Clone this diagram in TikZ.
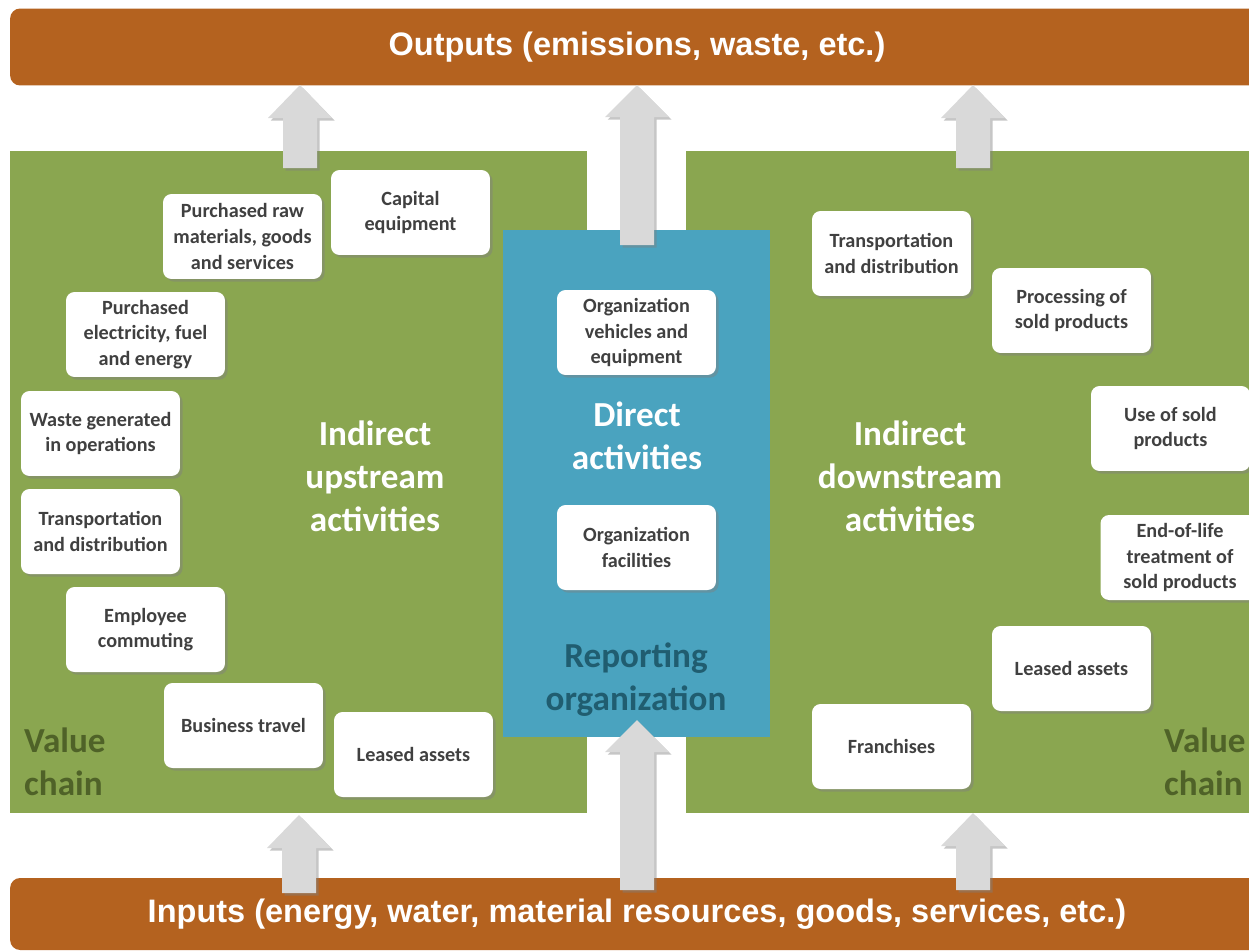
\documentclass[tikz,border=0pt]{standalone}
\usepackage{fontspec}
\setmainfont{Carlito}
\newfontfamily\barfont{Liberation Sans}
\usetikzlibrary{shadows}

\definecolor{rustbar}{HTML}{B4621F}
\definecolor{chaingreen}{HTML}{8AA650}
\definecolor{orgblue}{HTML}{4AA3BF}
\definecolor{boxtext}{HTML}{404040}
\definecolor{chaintext}{HTML}{4F6228}
\definecolor{orgtext}{HTML}{205D70}
\definecolor{arrowgray}{HTML}{D9D9D9}

\begin{document}
\begin{tikzpicture}[x=0.02cm,y=-0.02cm,
        box/.style={fill=white, rounded corners=0.17cm, minimum width=3.18cm, minimum height=1.7cm,
            align=center, text=boxtext, font=\fontsize{11.5}{14.6}\selectfont\bfseries,
            drop shadow={shadow xshift=1.5pt, shadow yshift=-1.5pt, opacity=0.45}},
        bar/.style={fill=rustbar, rounded corners=0.2cm, text=white, minimum width=25.08cm,
            font=\barfont\fontsize{18.5}{22}\selectfont\bfseries},
        title/.style={align=center, font=\fontsize{20}{24.4}\selectfont\bfseries},
        blockarrow/.style={fill=arrowgray,
            drop shadow={shadow xshift=1.5pt, shadow yshift=-1.5pt, opacity=0.45}}]
        \useasboundingbox (0,0) rectangle (1249,951);
        \clip (0,0) rectangle (1249,951);

        % Bands
        \node[bar, minimum height=1.54cm] (outputs) at (637,47) {Outputs (emissions, waste, etc.)};
        \node[bar, minimum height=1.44cm] (inputs) at (637,914) {Inputs (energy, water, material resources, goods, services, etc.)};

        % Value chain and organization
        \fill[chaingreen] (10,151) rectangle (587,813);
        \fill[chaingreen] (686,151) rectangle (1260,813);
        \fill[orgblue] (503,230) rectangle (770,737);

        % Arrows
        \fill[blockarrow] (283,168) -- (283,118) -- (268,118) -- (300,85) -- (332,118) -- (317,118) -- (317,168) -- cycle;
        \fill[blockarrow] (620,245) -- (620,117) -- (605,117) -- (637,85) -- (669,117) -- (654,117) -- (654,245) -- cycle;
        \fill[blockarrow] (956,168) -- (956,118) -- (941,118) -- (973,85) -- (1005,118) -- (990,118) -- (990,168) -- cycle;
        \fill[blockarrow] (282,893) -- (282,848) -- (267,848) -- (299,815) -- (331,848) -- (316,848) -- (316,893) -- cycle;
        \fill[blockarrow] (620,890) -- (620,752) -- (605,752) -- (637,720) -- (669,752) -- (654,752) -- (654,890) -- cycle;
        \fill[blockarrow] (956,890) -- (956,846) -- (941,846) -- (973,813) -- (1005,846) -- (990,846) -- (990,890) -- cycle;

        % Titles
        \node[title, text=white] (upstream) at (375,476) {Indirect\\upstream\\activities};
        \node[title, text=white] (direct) at (637,436) {Direct\\activities};
        \node[title, text=orgtext] (reporting) at (636,680) {Reporting\\organization};
        \node[title, text=white] (downstream) at (910,476) {Indirect\\downstream\\activities};
        \node[title, text=chaintext, align=left, anchor=west] (chainL) at (18,762) {Value\\chain};
        \node[title, text=chaintext, align=left, anchor=west] (chainR) at (1158,762) {Value\\chain};

        % Upstream
        \node[box] (capital) at (410.5,212.5) {Capital\\equipment};
        \node[box] (raw) at (242.5,236.5) {Purchased raw\\materials, goods\\and services};
        \node[box] (energy) at (145.5,334.5) {Purchased\\electricity, fuel\\and energy};
        \node[box] (waste) at (100.5,433.5) {Waste generated\\in operations};
        \node[box] (transUp) at (100.5,531.5) {Transportation\\and distribution};
        \node[box] (commute) at (145.5,629.5) {Employee\\commuting};
        \node[box] (travel) at (243.5,725.5) {Business travel};
        \node[box] (leasedUp) at (413.5,754.5) {Leased assets};

        % Direct
        \node[box] (vehicles) at (636.5,332.5) {Organization\\vehicles and\\equipment};
        \node[box] (facilities) at (636.5,547.5) {Organization\\facilities};

        % Downstream
        \node[box] (transDown) at (891.5,253.5) {Transportation\\and distribution};
        \node[box] (processing) at (1071.5,310.5) {Processing of\\sold products};
        \node[box] (use) at (1170.5,428.5) {Use of sold\\products};
        \node[box] (endoflife) at (1180,557.5) {End-of-life\\treatment of\\sold products};
        \node[box] (leasedDown) at (1071.5,668.5) {Leased assets};
        \node[box] (franchises) at (891.5,746.5) {Franchises};
\end{tikzpicture}
\end{document}
